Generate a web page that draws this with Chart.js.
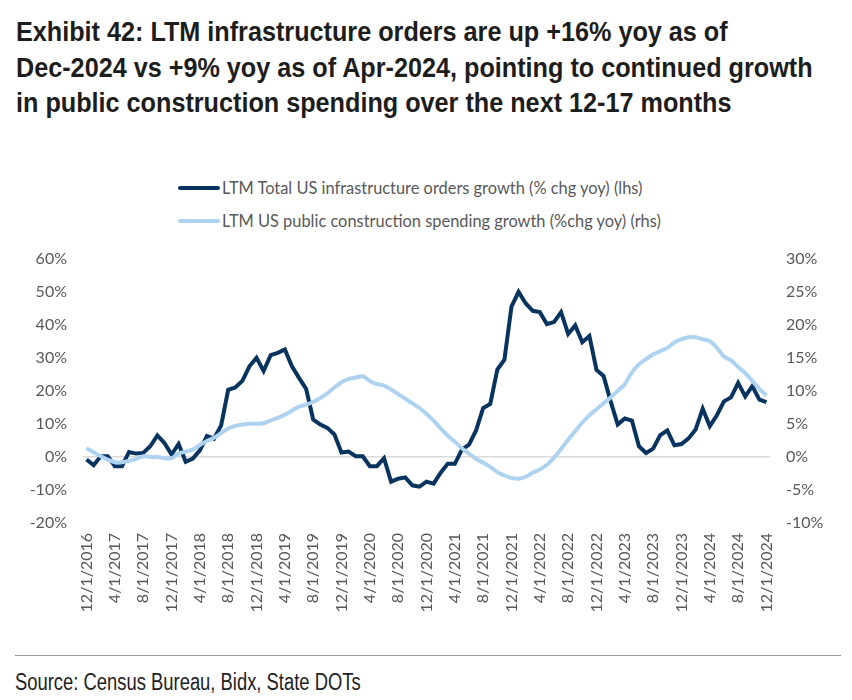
<!DOCTYPE html>
<html>
<head>
<meta charset="utf-8">
<script src="https://cdn.jsdelivr.net/npm/chart.js@4.4.1/dist/chart.umd.min.js"></script>
<style>
  body { margin: 0; background: #fff; }
  .page { position: relative; width: 852px; height: 700px; overflow: hidden; }
  .title {
    position: absolute; left: 16px; top: 14px; white-space: nowrap;
    font-family: "Liberation Sans", Arial, sans-serif;
    font-weight: bold; font-size: 28px; line-height: 35.5px; color: #1d1d1b;
    transform: scaleX(0.9); transform-origin: 0 0;
  }
  .legend { position: absolute; left: 178px; top: 171px; font-family: Lato, sans-serif; font-size: 16.4px; color: #595959; }
  .legend div { height: 33px; display: flex; align-items: center; }
  .legend span.sw { display: inline-block; width: 42px; height: 4px; border-radius: 2px; margin-right: 2px; }
  .chartbox { position: absolute; left: 0; top: 233px; width: 852px; height: 387px; }
  .rule { position: absolute; left: 15px; top: 655px; width: 826px; border-top: 1px solid #9a9a9a; }
  .source {
    position: absolute; left: 15px; top: 669px; white-space: nowrap;
    font-family: "Liberation Sans", Arial, sans-serif;
    font-size: 23px; color: #222;
    transform: scaleX(0.8); transform-origin: 0 0;
  }
</style>
</head>
<body>
<div class="page">
  <div class="title">Exhibit 42: LTM infrastructure orders are up +16% yoy as of<br>Dec-2024 vs +9% yoy as of Apr-2024, pointing to continued growth<br>in public construction spending over the next 12-17 months</div>
  <div class="legend" id="legend"></div>
  <div class="chartbox"><canvas id="chart" width="852" height="387"></canvas></div>
  <div class="rule"></div>
  <div class="source">Source: Census Bureau, Bidx, State DOTs</div>
</div>
<script>
// monthly, 12/1/2016 .. 12/1/2024
const startYear = 2016, startMonth = 12;
const months = [];
for (let i = 0; i < 97; i++) {
  const m = (startMonth - 1 + i) % 12 + 1;
  const y = startYear + Math.floor((startMonth - 1 + i) / 12);
  months.push(m + '/1/' + y);
}

const ordersLabel = 'LTM Total US infrastructure orders growth (% chg yoy) (lhs)';
const spendingLabel = 'LTM US public construction spending growth (%chg yoy) (rhs)';

// % chg yoy, left axis
const ordersGrowth = [
  -0.8, -2.5, 0.2, 0.2, -2.8, -2.8, 1.5, 1.0, 1.2, 3.2, 6.5, 4.2,
  0.7, 3.9, -1.5, -0.5, 2.0, 6.3, 5.5, 9.5, 20.3, 21.0, 23.0, 27.4,
  30.0, 26.0, 30.8, 31.5, 32.5, 27.4, 23.9, 20.6, 11.3, 9.8, 8.8, 6.8,
  1.3, 1.6, 0.2, 0.2, -2.8, -2.8, -0.4, -7.5, -6.6, -6.2, -8.6, -9.0,
  -7.5, -8.1, -4.8, -2.1, -2.1, 2.2, 3.7, 8.0, 14.8, 16.0, 26.4, 29.4,
  45.5, 49.9, 46.5, 44.2, 43.8, 40.2, 40.8, 43.8, 37.2, 39.8, 34.7, 36.6,
  26.3, 24.5, 16.8, 9.8, 11.6, 11.0, 3.2, 1.2, 2.5, 6.6, 8.0, 3.5,
  3.9, 5.6, 8.3, 14.6, 9.3, 12.6, 16.8, 18.0, 22.4, 18.3, 21.4, 17.3,
  16.6
];

// % chg yoy, right axis
const spendingGrowth = [
  1.3, 0.7, 0.1, -0.4, -0.8, -0.8, -0.6, -0.3, 0.1, 0.0, 0.0, -0.2,
  -0.2, 0.5, 0.8, 1.1, 1.8, 2.4, 2.9, 3.6, 4.3, 4.7, 4.9, 5.0,
  5.0, 5.1, 5.5, 5.9, 6.4, 7.0, 7.6, 7.9, 8.3, 8.9, 9.6, 10.5,
  11.3, 11.8, 12.0, 12.2, 11.5, 11.0, 10.8, 10.2, 9.5, 8.8, 8.1, 7.4,
  6.5, 5.5, 4.3, 3.2, 2.3, 1.3, 0.5, -0.3, -0.9, -1.5, -2.3, -2.8,
  -3.2, -3.3, -3.0, -2.4, -1.9, -1.2, -0.1, 1.2, 2.6, 3.9, 5.2, 6.3,
  7.2, 8.1, 9.0, 10.0, 11.0, 12.8, 14.0, 14.8, 15.5, 16.0, 16.5, 17.3,
  17.8, 18.1, 18.1, 17.8, 17.5, 16.5, 15.2, 14.6, 13.6, 12.7, 11.5, 10.3,
  9.3
];

const darkBlue = '#06345f';
const lightBlue = '#aed3f1';
const tickFont = { family: 'Lato, sans-serif', size: 16 };
const tickColor = '#595959';

// legend
const legendEl = document.getElementById('legend');
[[ordersLabel, darkBlue], [spendingLabel, lightBlue]].forEach(([txt, col]) => {
  const row = document.createElement('div');
  row.innerHTML = '<span class="sw" style="background:' + col + '"></span>' + txt;
  legendEl.appendChild(row);
});

new Chart(document.getElementById('chart'), {
  type: 'line',
  data: {
    labels: months,
    datasets: [
      {
        label: ordersLabel, data: ordersGrowth, yAxisID: 'y',
        borderColor: darkBlue, borderWidth: 4, pointRadius: 0, tension: 0, order: 1
      },
      {
        label: spendingLabel, data: spendingGrowth, yAxisID: 'y1',
        borderColor: lightBlue, borderWidth: 4, pointRadius: 0, tension: 0.3, order: 0
      }
    ]
  },
  options: {
    responsive: false,
    animation: false,
    devicePixelRatio: 1,
    layout: { padding: { top: 8, left: 0, right: 0, bottom: 0 } },
    plugins: { legend: { display: false }, tooltip: { enabled: false } },
    scales: {
      x: {
        offset: true,
        grid: { display: false },
        border: { display: false },
        ticks: {
          autoSkip: false, maxRotation: 90, minRotation: 90, padding: 2,
          color: tickColor, font: tickFont,
          callback: (v, i) => i % 4 === 0 ? months[i] : ''
        },
        afterFit: s => { s.height = 97; }
      },
      y: {
        position: 'left', min: -20, max: 60,
        grid: {
          drawTicks: false,
          color: c => c.tick.value === 0 ? '#d9d9d9' : 'rgba(0,0,0,0)',
          lineWidth: 1.5
        },
        border: { display: false },
        ticks: { stepSize: 10, padding: 16, color: tickColor, font: tickFont, callback: v => v + '%' },
        afterFit: s => { s.width = 83; }
      },
      y1: {
        position: 'right', min: -10, max: 30,
        grid: { display: false, drawTicks: false },
        border: { display: false },
        ticks: { stepSize: 5, padding: 16, color: tickColor, font: tickFont, callback: v => v + '%' },
        afterFit: s => { s.width = 82; }
      }
    }
  }
});
</script>
</body>
</html>
